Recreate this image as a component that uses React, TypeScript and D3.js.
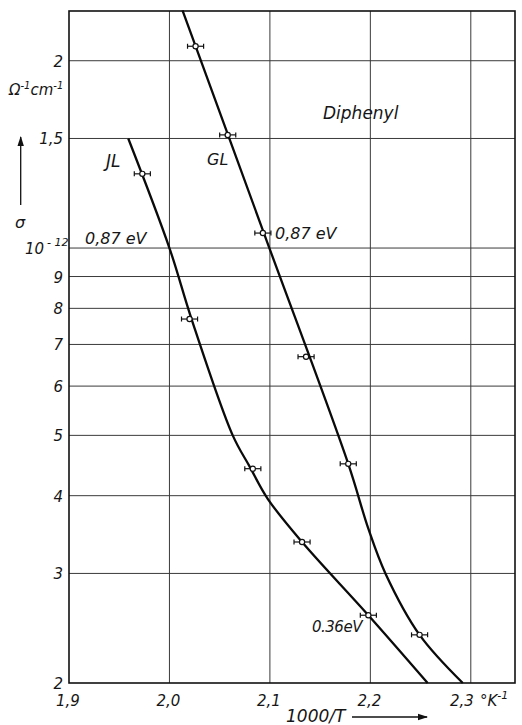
import React, { useEffect, useRef } from 'react';
import * as d3 from 'd3';

// curve JL and GL (sigma in Ohm^-1 cm^-1)
const glCurveX = [2.013, 2.094, 2.178, 2.198, 2.215, 2.249, 2.292];
const glCurveY = [2.41e-12, 1.057e-12, 4.5e-13, 3.54e-13, 3.0e-13, 2.39e-13, 2.0e-13];
const jlCurveX = [1.959, 2.0, 2.022, 2.063, 2.08, 2.098, 2.132, 2.198, 2.257];
const jlCurveY = [1.5e-12, 1.0e-12, 7.69e-13, 5.0e-13, 4.45e-13, 3.95e-13, 3.37e-13, 2.57e-13, 2.0e-13];

// measured points with error bars
const glPointsX = [2.026, 2.058, 2.093, 2.136, 2.178, 2.249];
const glPointsY = [2.11e-12, 1.52e-12, 1.057e-12, 6.69e-13, 4.5e-13, 2.39e-13];
const jlPointsX = [1.973, 2.02, 2.083, 2.132, 2.198];
const jlPointsY = [1.316e-12, 7.69e-13, 4.42e-13, 3.37e-13, 2.57e-13];
const errX = 0.008;

const xTicks = [1.9, 2.0, 2.1, 2.2, 2.3];
const xTickLabels = ['1,9', '2,0', '2,1', '2,2', '2,3'];
const yTicks = [2e-13, 3e-13, 4e-13, 5e-13, 6e-13, 7e-13, 8e-13, 9e-13, 1e-12, 1.5e-12, 2e-12];
const yTickLabels = ['2', '3', '4', '5', '6', '7', '8', '9', '10', '1,5', '2'];

const W = 522;
const H = 725;
const FONT = 'DejaVu Sans, Liberation Sans, sans-serif';

const App: React.FC = () => {
  const ref = useRef<SVGSVGElement>(null);

  useEffect(() => {
    const svg = d3.select(ref.current);
    svg.selectAll('*').remove();

    const x = d3.scaleLinear().domain([1.9, 2.344]).range([69, 515]);
    const y = d3.scaleLog().domain([2e-13, 2.404e-12]).range([683, 11]);
    const [x0, x1] = x.range();
    const [y0, y1] = y.range();

    const defs = svg.append('defs');
    defs
      .append('marker')
      .attr('id', 'arrow')
      .attr('viewBox', '0 0 10 10')
      .attr('refX', 9)
      .attr('refY', 5)
      .attr('markerWidth', 10)
      .attr('markerHeight', 10)
      .attr('markerUnits', 'userSpaceOnUse')
      .attr('orient', 'auto')
      .append('path')
      .attr('d', 'M0,1.8 L10,5 L0,8.2 Z')
      .attr('fill', '#111');

    // grid
    const grid = svg.append('g').attr('stroke', '#3a3a3a').attr('stroke-width', 1);
    grid
      .selectAll('line.vx')
      .data(xTicks.slice(1))
      .enter()
      .append('line')
      .attr('x1', (d) => x(d))
      .attr('x2', (d) => x(d))
      .attr('y1', y1)
      .attr('y2', y0);
    grid
      .selectAll('line.hy')
      .data(yTicks.slice(1))
      .enter()
      .append('line')
      .attr('x1', x0)
      .attr('x2', x1)
      .attr('y1', (d) => y(d))
      .attr('y2', (d) => y(d));

    svg
      .append('rect')
      .attr('x', x0)
      .attr('y', y1)
      .attr('width', x1 - x0)
      .attr('height', y0 - y1)
      .attr('fill', 'none')
      .attr('stroke', '#111')
      .attr('stroke-width', 1.6);

    // curves
    const line = d3
      .line<[number, number]>()
      .x((d) => x(d[0]))
      .y((d) => y(d[1]))
      .curve(d3.curveCatmullRom.alpha(0.5));

    const curves: [number, number][][] = [
      glCurveX.map((v, i) => [v, glCurveY[i]]),
      jlCurveX.map((v, i) => [v, jlCurveY[i]]),
    ];
    svg
      .selectAll('path.curve')
      .data(curves)
      .enter()
      .append('path')
      .attr('d', (d) => line(d))
      .attr('fill', 'none')
      .attr('stroke', '#0a0a0a')
      .attr('stroke-width', 2.3);

    // points with error bars
    const pts: [number, number][] = [
      ...glPointsX.map((v, i) => [v, glPointsY[i]] as [number, number]),
      ...jlPointsX.map((v, i) => [v, jlPointsY[i]] as [number, number]),
    ];
    const pg = svg
      .selectAll('g.pt')
      .data(pts)
      .enter()
      .append('g')
      .attr('stroke', '#111')
      .attr('stroke-width', 1.2);
    pg.append('line')
      .attr('x1', (d) => x(d[0] - errX))
      .attr('x2', (d) => x(d[0] + errX))
      .attr('y1', (d) => y(d[1]))
      .attr('y2', (d) => y(d[1]));
    pg.append('line')
      .attr('x1', (d) => x(d[0] - errX))
      .attr('x2', (d) => x(d[0] - errX))
      .attr('y1', (d) => y(d[1]) - 2.5)
      .attr('y2', (d) => y(d[1]) + 2.5);
    pg.append('line')
      .attr('x1', (d) => x(d[0] + errX))
      .attr('x2', (d) => x(d[0] + errX))
      .attr('y1', (d) => y(d[1]) - 2.5)
      .attr('y2', (d) => y(d[1]) + 2.5);
    pg.append('circle')
      .attr('cx', (d) => x(d[0]))
      .attr('cy', (d) => y(d[1]))
      .attr('r', 2.6)
      .attr('fill', '#fff');

    const txt = (
      tx: number,
      ty: number,
      s: string,
      size: number,
      anchor = 'start'
    ) =>
      svg
        .append('text')
        .attr('x', tx)
        .attr('y', ty)
        .attr('font-family', FONT)
        .attr('font-style', 'italic')
        .attr('font-size', size)
        .attr('fill', '#161616')
        .attr('text-anchor', anchor)
        .text(s);

    // y tick labels
    yTicks.forEach((t, i) => {
      if (yTickLabels[i] === '10') {
        const t10 = txt(25, y(t) + 6, '10', 15, 'start');
        t10.append('tspan').attr('dx', 3).attr('dy', -8).attr('font-size', 11).text('- 12');
      } else {
        txt(63, y(t) + 6, yTickLabels[i], 15, 'end');
      }
    });

    // x tick labels (the last one sits left of its line, unit follows)
    xTicks.forEach((t, i) => {
      if (i === xTicks.length - 1) txt(x(t) + 3, 706, xTickLabels[i], 15, 'end');
      else txt(x(t) - 1, 706, xTickLabels[i], 15, 'middle');
    });
    const k = txt(480, 706, '°K', 15, 'start');
    k.append('tspan').attr('dy', -7).attr('font-size', 11).text('-1');

    // axis titles
    const unit = txt(9, 95, 'Ω', 15, 'start');
    unit.append('tspan').attr('dy', -6).attr('font-size', 10).text('-1');
    unit.append('tspan').attr('dy', 6).text('cm');
    unit.append('tspan').attr('dy', -6).attr('font-size', 10).text('-1');

    svg
      .append('line')
      .attr('x1', 20.7)
      .attr('x2', 20.7)
      .attr('y1', 205)
      .attr('y2', 137)
      .attr('stroke', '#111')
      .attr('stroke-width', 1.3)
      .attr('marker-end', 'url(#arrow)');
    txt(20, 228, 'σ', 16, 'middle');

    txt(286, 722, '1000/T', 17, 'start');
    svg
      .append('line')
      .attr('x1', 352)
      .attr('x2', 427)
      .attr('y1', 717)
      .attr('y2', 717)
      .attr('stroke', '#111')
      .attr('stroke-width', 1.3)
      .attr('marker-end', 'url(#arrow)');

    // annotations
    txt(106, 167, 'JL', 17);
    txt(207, 165, 'GL', 16);
    txt(85, 244, '0,87 eV', 16);
    txt(275, 239, '0,87 eV', 16);
    txt(323, 119, 'Diphenyl', 17);
    txt(312, 632, '0.36eV', 15).attr('letter-spacing', -0.5);
  });

  return (
    <svg
      ref={ref}
      width={W}
      height={H}
      style={{ position: 'absolute', left: 0, top: 0, background: '#fff' }}
    />
  );
};

export default App;
